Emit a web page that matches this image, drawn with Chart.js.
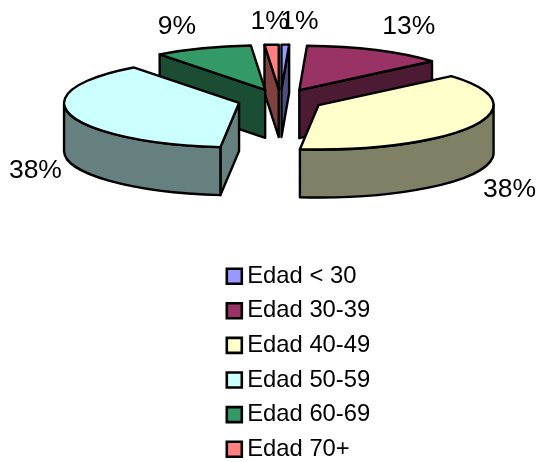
<!DOCTYPE html>
<html>
<head>
<meta charset="utf-8">
<script src="https://cdn.jsdelivr.net/npm/chart.js@4.4.2/dist/chart.umd.js"></script>
<style>
  html, body { margin: 0; padding: 0; background: #fff; }
  canvas { display: block; }
</style>
</head>
<body>
<canvas id="edadChart" width="536" height="462"></canvas>
<script>
const categories = ['Edad < 30', 'Edad 30-39', 'Edad 40-49', 'Edad 50-59', 'Edad 60-69', 'Edad 70+'];
const shares = [0.7, 13, 38, 38, 9, 1.3];
const colors = ['#9999FF', '#993366', '#FFFFCC', '#CCFFFF', '#339966', '#FF8080'];

// pie layout in page pixels
const PIE_X = 280.5;
const PIE_Y = 100;
const RADIUS = 175;
const EXPLODE = 43;
const TILT = 0.254;
const DEPTH = 48;
const labelNudges = [[14, -23], [33, -24], [36, 64], [-35, 56], [-26, -22], [-2, -23]];

function darken(hex) {
  const n = parseInt(hex.slice(1), 16);
  const half = v => Math.round(v / 2);
  return `rgb(${half(n >> 16)}, ${half((n >> 8) & 255)}, ${half(n & 255)})`;
}

// arc on the tilted plane, appended to the current path
function tiltedArc(ctx, x, y, from, to, ccw) {
  ctx.save();
  ctx.translate(x, y);
  ctx.scale(1, TILT);
  ctx.arc(0, 0, RADIUS, from, to, ccw);
  ctx.restore();
}

function paint(ctx, fill) {
  ctx.closePath();
  ctx.fillStyle = fill;
  ctx.fill();
  ctx.stroke();
}

function drawFace(ctx, x, y, a, fill) {
  const rimX = x + Math.cos(a) * RADIUS;
  const rimY = y + Math.sin(a) * RADIUS * TILT;
  ctx.beginPath();
  ctx.moveTo(x, y);
  ctx.lineTo(rimX, rimY);
  ctx.lineTo(rimX, rimY + DEPTH);
  ctx.lineTo(x, y + DEPTH);
  paint(ctx, fill);
}

function drawSlice(ctx, slice) {
  const {startAngle: start, endAngle: end, x, y, color} = slice;
  const wall = darken(color);

  // cut faces, only those turned to the viewer
  if (Math.cos(start) < -1e-6) {
    drawFace(ctx, x, y, start, wall);
  }
  if (Math.cos(end) > 1e-6) {
    drawFace(ctx, x, y, end, wall);
  }

  // outer wall, only the part facing the viewer
  const lo = Math.max(start, 0);
  const hi = Math.min(end, Math.PI);
  if (hi > lo) {
    ctx.beginPath();
    tiltedArc(ctx, x, y, lo, hi, false);
    tiltedArc(ctx, x, y + DEPTH, hi, lo, true);
    paint(ctx, wall);
  }

  // top
  ctx.beginPath();
  ctx.moveTo(x, y);
  tiltedArc(ctx, x, y, start, end, false);
  paint(ctx, color);
}

const pie3d = {
  id: 'pie3d',
  afterLayout(chart) {
    // pie and legend are placed by hand, the legend does not eat into the pie
    chart.chartArea = {
      left: PIE_X - 280, right: PIE_X + 280, top: PIE_Y - 100, bottom: PIE_Y + 100,
      width: 560, height: 200
    };
    const legend = chart.legend;
    const w = legend.width;
    const h = legend.height;
    legend.left = 222.5;
    legend.right = legend.left + w;
    legend.top = 253.5;
    legend.bottom = legend.top + h;
  },
  beforeDatasetsDraw(chart) {
    const ctx = chart.ctx;
    const meta = chart.getDatasetMeta(0);
    const slices = meta.data.map((arc, i) => {
      const p = arc.getProps(['x', 'y', 'startAngle', 'endAngle']);
      const mid = (p.startAngle + p.endAngle) / 2;
      return {
        index: i,
        mid,
        startAngle: p.startAngle,
        endAngle: p.endAngle,
        x: p.x + Math.cos(mid) * EXPLODE,
        y: p.y + Math.sin(mid) * EXPLODE * TILT,
        color: colors[i]
      };
    });

    ctx.save();
    ctx.strokeStyle = '#000';
    ctx.lineWidth = 2.4;
    ctx.lineJoin = 'round';
    slices.slice().sort((a, b) => Math.sin(a.mid) - Math.sin(b.mid)).forEach(s => drawSlice(ctx, s));

    // percentage labels
    ctx.fillStyle = '#000';
    ctx.font = '26.5px "Liberation Sans"';
    ctx.textAlign = 'center';
    ctx.textBaseline = 'middle';
    slices.forEach(s => {
      const lx = s.x + Math.cos(s.mid) * RADIUS + labelNudges[s.index][0];
      const ly = s.y + Math.sin(s.mid) * RADIUS * TILT + labelNudges[s.index][1];
      ctx.fillText(Math.round(shares[s.index]) + '%', lx, ly);
    });
    ctx.restore();
    return false;
  }
};

new Chart(document.getElementById('edadChart'), {
  type: 'pie',
  data: {
    labels: categories,
    datasets: [{
      data: shares,
      backgroundColor: colors,
      borderColor: '#000',
      borderWidth: 2.6,
      offset: EXPLODE,
      hoverOffset: 0
    }]
  },
  options: {
    responsive: false,
    animation: false,
    radius: RADIUS,
    plugins: {
      tooltip: {enabled: false},
      legend: {
        position: 'right',
        align: 'start',
        labels: {
          color: '#000',
          font: {family: '"Liberation Sans"', size: 23.8},
          usePointStyle: true,
          pointStyle: 'rect',
          boxWidth: 2,
          boxHeight: 15,
          padding: 10.8
        }
      }
    }
  },
  plugins: [pie3d]
});
</script>
</body>
</html>
